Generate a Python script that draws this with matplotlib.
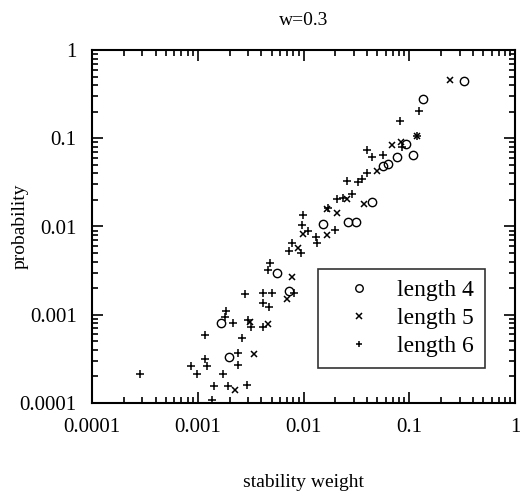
import numpy as np
import matplotlib
matplotlib.use("Agg")
import matplotlib.pyplot as plt

plt.rcParams['font.family'] = ['Liberation Serif', 'DejaVu Serif']

# length 4 (circles)
x4 = [0.33, 0.134, 0.093, 0.109, 0.076, 0.063, 0.057, 0.044, 0.0311, 0.0265,
      0.0154, 0.00566, 0.0073, 0.00166, 0.00199]
y4 = [0.44, 0.279, 0.086, 0.064, 0.061, 0.051, 0.049, 0.0191, 0.01135, 0.01135,
      0.0106, 0.00294, 0.00187, 0.0008, 0.000335]

# length 5 (crosses)
x5 = [0.241, 0.1175, 0.0682, 0.083, 0.0499, 0.0256, 0.0373, 0.0209, 0.0166,
      0.00995, 0.00893, 0.00783, 0.00703, 0.00466, 0.00312, 0.00343, 0.00225, 0.0168]
y5 = [0.457, 0.107, 0.0832, 0.0914, 0.043, 0.0203, 0.018, 0.0141, 0.00802,
      0.00815, 0.00566, 0.0027, 0.0015, 0.000785, 0.000836, 0.000356, 0.00014, 0.0157]

# length 6 (pluses)
x6 = [0.1245, 0.0818, 0.119, 0.0402, 0.0442, 0.0569, 0.0847, 0.0259, 0.033, 0.0355,
      0.0395, 0.0206, 0.0286, 0.0238, 0.0172, 0.0199, 0.00995, 0.00975, 0.0111, 0.0131,
      0.0133, 0.00773, 0.0073, 0.0094, 0.00482, 0.00466, 0.00813, 0.00282, 0.00411, 0.005,
      0.00417, 0.00472, 0.00185, 0.00181, 0.00214, 0.00301, 0.00317, 0.00411, 0.00117, 0.00242,
      0.00239, 0.00117, 0.00121, 0.000863, 0.00099, 0.000284, 0.00175, 0.00143, 0.00195, 0.00294,
      0.00136, 0.0026]
y6 = [0.204, 0.158, 0.106, 0.0736, 0.0618, 0.0646, 0.0789, 0.033, 0.0322, 0.0343,
      0.04, 0.0203, 0.0233, 0.0208, 0.0161, 0.00912, 0.0135, 0.0104, 0.00897, 0.00753,
      0.00656, 0.00644, 0.00524, 0.00497, 0.00389, 0.00321, 0.00178, 0.00172, 0.00175, 0.00178,
      0.00137, 0.00124, 0.00111, 0.000935, 0.000815, 0.000871, 0.00072, 0.00072, 0.00059, 0.000372,
      0.00027, 0.000313, 0.000262, 0.000265, 0.000211, 0.000211, 0.000213, 0.000157, 0.000157, 0.00016,
      0.000108, 0.00054]

ticks = [0.0001, 0.001, 0.01, 0.1, 1]
tick_labels = ['0.0001', '0.001', '0.01', '0.1', '1']

fig = plt.figure(figsize=(5.2, 4.98), dpi=100)
ax = fig.add_axes([92/520, 1 - 403/498, 423/520, 353/498])

ax.plot(x4, y4, 'o', ms=6, mfc='none', mec='black', mew=1.0, ls='none', label='length 4')
ax.plot(x5, y5, 'x', ms=4.5, color='black', mew=1.1, ls='none', label='length 5')
ax.plot(x6, y6, '+', ms=5.5, color='black', mew=1.1, ls='none', label='length 6')

ax.set_xscale('log')
ax.set_yscale('log')
ax.set_xlim(1e-4, 1)
ax.set_ylim(1e-4, 1)
ax.set_xticks(ticks)
ax.set_xticklabels(tick_labels)
ax.set_yticks(ticks)
ax.set_yticklabels(tick_labels)

ax.tick_params(which='both', direction='in', top=True, right=True, labelsize=15, width=1.2)
ax.tick_params(which='major', length=8, pad=11)
ax.tick_params(which='minor', length=4)
for s in ax.spines.values():
    s.set_linewidth(1.5)

ax.set_title('w=0.3', fontsize=14, pad=18)
ax.set_xlabel('stability weight', fontsize=14)
ax.set_ylabel('probability', fontsize=14)
ax.xaxis.set_label_coords(0.5, -0.2)
ax.yaxis.set_label_coords(-0.15, 0.5)

leg = ax.legend(loc='lower right', bbox_to_anchor=(0.929, 0.099), borderaxespad=0,
                fontsize=17, frameon=True, fancybox=False, edgecolor='black',
                borderpad=0.45, handlelength=2.5, handletextpad=0.4, labelspacing=0.28,
                markerscale=0.9)
leg.get_frame().set_linewidth(1.2)

fig.savefig('out.png', dpi=100)
